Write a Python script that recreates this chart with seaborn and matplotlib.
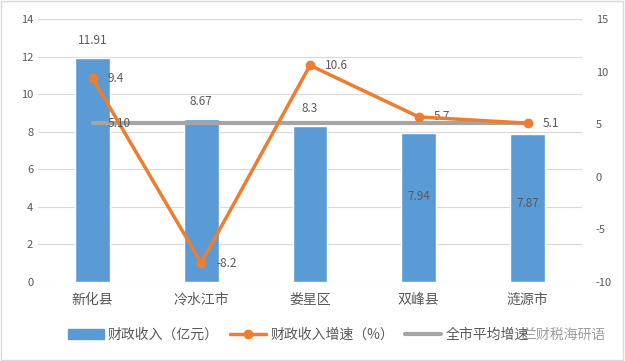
import matplotlib
matplotlib.use('Agg')
import matplotlib.pyplot as plt
import seaborn as sns
from matplotlib.lines import Line2D
from matplotlib.patches import Patch

# data
counties = ['新化县', '冷水江市', '娄星区', '双峰县', '涟源市']
revenue = [11.91, 8.67, 8.3, 7.94, 7.87]          # 亿元
growth = [9.4, -8.2, 10.6, 5.7, 5.1]              # %
city_avg = [5.1, 5.1, 5.1, 5.1, 5.1]              # %
revenue_labels = ['11.91', '8.67', '8.3', '7.94', '7.87']
growth_labels = ['9.4', '-8.2', '10.6', '5.7', '5.1']

BLUE = '#5B9BD5'
ORANGE = '#ED7D31'
GRAY = '#A5A5A5'
TXT = '#595959'

sns.set_style('white')
plt.rcParams['font.family'] = ['Noto Sans CJK SC', 'DejaVu Sans']
plt.rcParams['axes.unicode_minus'] = False

fig = plt.figure(figsize=(6.25, 3.61), dpi=100)
ax = fig.add_axes([0.061, 0.219, 0.870, 0.728])

sns.barplot(x=counties, y=revenue, color=BLUE, width=0.32, saturation=1, ax=ax, zorder=2)
ax.set_xlim(-0.5, 4.5)
ax.set_ylim(0, 14)
ax.set_yticks(range(0, 15, 2))
ax.grid(axis='y', color='#D9D9D9', lw=0.8, zorder=0)
for s in ax.spines.values():
    s.set_visible(False)
ax.tick_params(length=0, colors=TXT, labelsize=8)
ax.tick_params(axis='x', labelsize=10, pad=8)
ax.set_xlabel('')
ax.set_ylabel('')

# bar value labels: first three above the bar, last two well inside it
for i, (v, t) in enumerate(zip(revenue, revenue_labels)):
    dy = [13, 13, 13, -46, -50][i]
    ax.annotate(t, (i, v), xytext=(0, dy), textcoords='offset points',
                ha='center', va='center', fontsize=8.5, color=TXT)

ax2 = ax.twinx()
ax2.set_ylim(-10, 15)
ax2.set_yticks(range(-10, 16, 5))
for s in ax2.spines.values():
    s.set_visible(False)
ax2.tick_params(length=0, colors=TXT, labelsize=8, pad=10)
ax2.plot(range(len(counties)), city_avg, color=GRAY, lw=3, solid_capstyle='round', zorder=3)
ax2.plot(range(len(counties)), growth, color=ORANGE, lw=2.5, marker='o', ms=6, zorder=4)
for i, (v, t) in enumerate(zip(growth, growth_labels)):
    ax2.annotate(t, (i, v), xytext=(11, 0), textcoords='offset points',
                 ha='left', va='center', fontsize=8.5, color=TXT)
ax2.annotate('5.10', (0, city_avg[0]), xytext=(11, 0), textcoords='offset points',
             ha='left', va='center', fontsize=8.5, color=TXT, zorder=5)

handles = [Patch(color=BLUE),
           Line2D([], [], color=ORANGE, lw=2.5, marker='o', ms=6),
           Line2D([], [], color=GRAY, lw=3)]
labels = ['财政收入（亿元）', '财政收入增速（%）', '全市平均增速']
fig.legend(handles, labels, loc='center left', bbox_to_anchor=(0.088, 0.072), ncol=3,
           frameon=False, fontsize=10, labelcolor=TXT, handlelength=2.6,
           handletextpad=0.3, columnspacing=0.8)

# watermark right after the legend
fig.text(0.836, 0.072, '兰财税海研语', ha='left', va='center', fontsize=10,
         color='#8C8C8C', alpha=0.85)

fig.add_artist(plt.Rectangle((0.002, 0.003), 0.995, 0.994, transform=fig.transFigure,
                             fill=False, edgecolor='#D9D9D9', lw=1))

fig.savefig('out.png', dpi=100)
